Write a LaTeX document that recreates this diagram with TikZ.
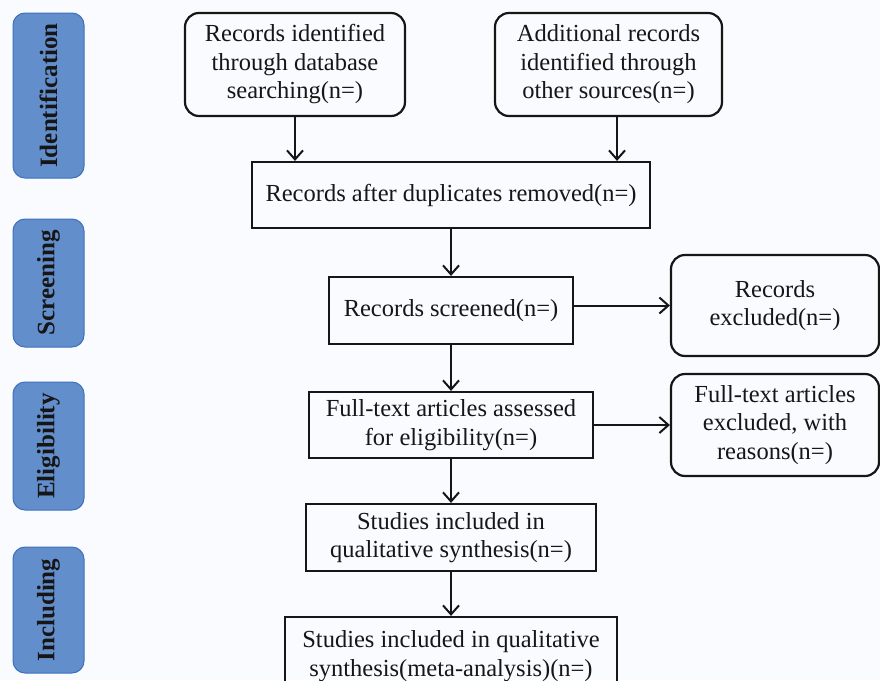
\documentclass[tikz,border=0pt]{standalone}
\usepackage{fontspec}
\setmainfont{Liberation Serif}
\usetikzlibrary{arrows.meta}
\definecolor{bg}{RGB}{250,251,254}
\definecolor{barfill}{RGB}{99,142,204}
\definecolor{barline}{RGB}{62,112,190}
\definecolor{ink}{RGB}{22,22,22}
\begin{document}
\begin{tikzpicture}[x=1pt,y=-1pt,
  every node/.style={font=\fontsize{24.5}{28.5}\selectfont, text=ink},
  sq/.style={draw=ink, line width=2.2pt, align=center, inner sep=0pt},
  rd/.style={sq, rounded corners=14pt},
  bar/.style={draw=barline, fill=barfill, line width=1pt, rounded corners=12pt,
              minimum width=71pt, inner sep=0pt, font=\fontsize{25}{28}\selectfont\bfseries},
  arr/.style={draw=ink, line width=2pt, -{Straight Barb[length=9pt,width=16pt,line width=2pt]}}]
\fill[bg] (0,0) rectangle (880,680);
\useasboundingbox (0,0) rectangle (880,680);
\clip (0,0) rectangle (880,680);

% stage bars
\node[bar, minimum height=165pt] (b1) at (48.5,95.5) {\rotatebox{90}{Identification}};
\node[bar, minimum height=128pt] (b2) at (48.5,283) {\rotatebox{90}{Screening}};
\node[bar, minimum height=128pt] (b3) at (48.5,446) {\rotatebox{90}{Eligibility}};
\node[bar, minimum height=126pt] (b4) at (48.5,610) {\rotatebox{90}{Including}};

% boxes
\node[rd, minimum width=220pt, minimum height=103pt] (r1) at (295,64.5)
  {Records identified\\through database\\searching(n=)};
\node[rd, minimum width=227pt, minimum height=103pt] (r2) at (608.5,64.5)
  {Additional records\\identified through\\other sources(n=)};
\node[sq, minimum width=398pt, minimum height=66pt] (r3) at (451,195)
  {Records after duplicates removed(n=)};
\node[sq, minimum width=244pt, minimum height=67pt] (r4) at (451,310.5)
  {Records screened(n=)};
\node[rd, minimum width=208pt, minimum height=101pt] (r5) at (775,305.5)
  {Records\\excluded(n=)};
\node[sq, minimum width=284pt, minimum height=66pt] (r6) at (451,425)
  {Full-text articles assessed\\for eligibility(n=)};
\node[rd, minimum width=208pt, minimum height=102pt] (r7) at (775,425)
  {Full-text articles\\excluded, with\\reasons(n=)};
\node[sq, minimum width=290pt, minimum height=67pt] (r8) at (451,537.5)
  {Studies included in\\qualitative synthesis(n=)};
\node[sq, minimum width=332pt, minimum height=78pt] (r9) at (451,656)
  {Studies included in qualitative\\synthesis(meta-analysis)(n=)};

% connectors
\draw[arr] (r1.south) -- (r1.south |- r3.north);
\draw[arr] ([xshift=8.5pt]r2.south) -- ([xshift=8.5pt]r2.south |- r3.north);
\draw[arr] (r3.south) -- (r4.north);
\draw[arr] (r5.west -| r4.east) -- (r5.west);
\draw[arr] (r4.south) -- (r6.north);
\draw[arr] (r6.east) -- (r7.west);
\draw[arr] (r6.south) -- (r8.north);
\draw[arr] (r8.south) -- (r9.north);
\end{tikzpicture}
\end{document}
